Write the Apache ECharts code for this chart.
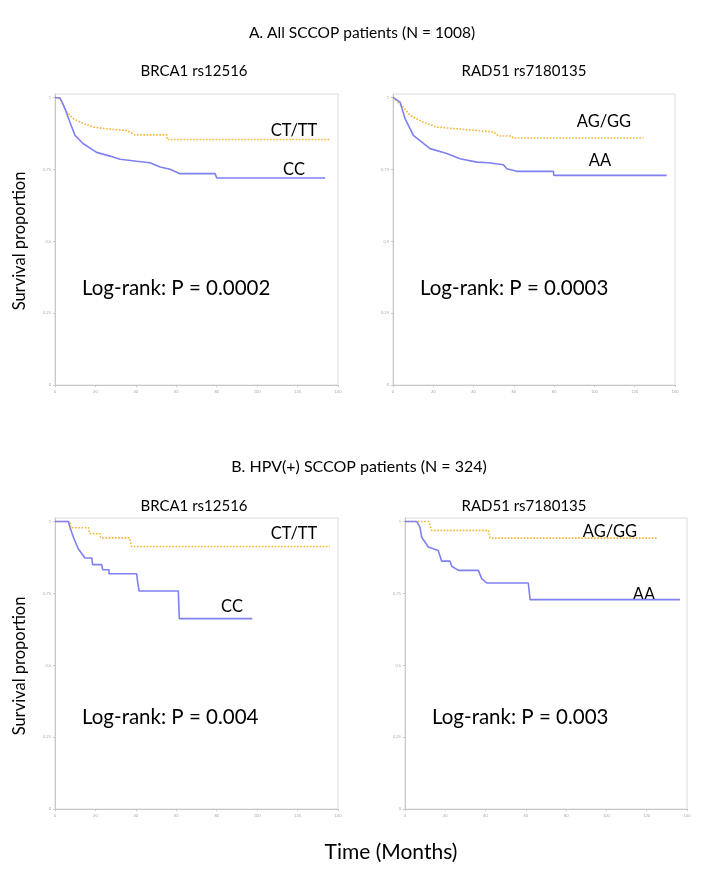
<!DOCTYPE html>
<html>
<head>
<meta charset="utf-8">
<script src="https://cdn.jsdelivr.net/npm/echarts@6/dist/echarts.min.js"></script>
<style>
html,body{margin:0;padding:0;background:#fff;}
#c{width:706px;height:876px;}
</style>
</head>
<body>
<div id="c"></div>
<script>
// ---- data (time in months, survival proportion) ----
const xTicks = [0, 20, 40, 60, 80, 100, 120, 140];
const yTicks = [0, 0.25, 0.5, 0.75, 1];

// Panel A-left: BRCA1 rs12516, all patients
const aBrcaCC_t  = [0, 2.5, 4.9, 7.4, 9.9, 14, 20.6, 27.2, 32.2, 40.4, 47, 52, 56.9, 61.8, 79.2, 80, 133.6];
const aBrcaCC_s  = [1, 0.998, 0.962, 0.914, 0.868, 0.839, 0.809, 0.796, 0.785, 0.778, 0.773, 0.758, 0.75, 0.735, 0.735, 0.72, 0.72];
const aBrcaCT_t  = [0, 2.5, 5.8, 9.1, 14, 18.9, 25.6, 35.5, 39.6, 55.3, 55.3, 136];
const aBrcaCT_s  = [1, 0.995, 0.949, 0.926, 0.909, 0.897, 0.891, 0.885, 0.87, 0.87, 0.854, 0.854];

// Panel A-right: RAD51 rs7180135, all patients
const aRadAA_t   = [0, 3.5, 6, 10.1, 18.4, 26.7, 33.3, 41.6, 47.3, 54.8, 56.5, 61.4, 79.6, 79.9, 135.9];
const aRadAA_s   = [1, 0.984, 0.926, 0.868, 0.822, 0.805, 0.787, 0.775, 0.773, 0.766, 0.752, 0.743, 0.743, 0.729, 0.729];
const aRadAG_t   = [0, 5.1, 8.4, 15, 21.7, 31.6, 41.6, 49.8, 52.3, 58.9, 59.7, 124.3];
const aRadAG_s   = [1, 0.966, 0.938, 0.914, 0.897, 0.891, 0.885, 0.88, 0.866, 0.866, 0.859, 0.859];

// Panel B-left: BRCA1 rs12516, HPV(+) patients
const bBrcaCC_t  = [0, 6.6, 7.4, 9.1, 11.5, 14.8, 18.2, 18.6, 23.1, 23.6, 26.7, 26.7, 40.4, 40.9, 41.6, 61, 61.5, 97.6];
const bBrcaCC_s  = [1, 1, 0.98, 0.945, 0.905, 0.873, 0.873, 0.85, 0.85, 0.832, 0.832, 0.818, 0.818, 0.789, 0.758, 0.758, 0.662, 0.662];
const bBrcaCT_t  = [0, 7.4, 7.8, 16.5, 17.3, 22.3, 22.6, 36.8, 37.9, 136];
const bBrcaCT_s  = [1, 1, 0.978, 0.978, 0.957, 0.957, 0.943, 0.943, 0.913, 0.913];

// Panel B-right: RAD51 rs7180135, HPV(+) patients
const bRadAA_t   = [0, 5.8, 7.4, 8.3, 11.6, 16.5, 18.2, 22.3, 23.2, 26.5, 36.4, 38.1, 40.6, 61.2, 62.1, 136.5];
const bRadAA_s   = [1, 1, 0.98, 0.945, 0.911, 0.899, 0.862, 0.862, 0.844, 0.83, 0.83, 0.801, 0.786, 0.786, 0.728, 0.728];
const bRadAG_t   = [0, 11.6, 12.4, 13.3, 41.4, 42.2, 125];
const bRadAG_s   = [1, 1, 0.986, 0.969, 0.969, 0.942, 0.942];

const FONT = 'Lato';
const BLUE = '#8080f2';
const ORANGE = '#f5b333';

function pairs(t, s){ return t.map((v,i)=>[v, s[i]]); }

const grids = [
  {left:55,  top:94,  width:283, height:291},
  {left:393, top:94,  width:282, height:291},
  {left:55,  top:518, width:283, height:291},
  {left:405, top:518, width:282, height:291}
];

const xAxes = grids.map((g,i)=>({
  type:'value', gridIndex:i, min:0, max:140, interval:20,
  axisLine:{show:true, lineStyle:{color:'#c8c8c8', width:1}},
  axisTick:{show:true, length:2, lineStyle:{color:'#c8c8c8'}},
  axisLabel:{fontSize:4, color:'#aaa', margin:5, fontFamily:FONT},
  splitLine:{show:false}
}));
const yAxes = grids.map((g,i)=>({
  type:'value', gridIndex:i, min:0, max:1.012, interval:0.25,
  axisLine:{show:true, lineStyle:{color:'#c8c8c8', width:1}},
  axisTick:{show:true, length:2, lineStyle:{color:'#c8c8c8'}},
  axisLabel:{fontSize:4, color:'#aaa', margin:4, fontFamily:FONT, showMaxLabel:false},
  splitLine:{show:false}
}));

function line(i, t, s, color, dotted){
  return {
    type:'line', xAxisIndex:i, yAxisIndex:i, data:pairs(t,s),
    symbol:'none', animation:false, silent:true,
    lineStyle:{color:color, width:1.6, type:dotted?'dotted':'solid'}
  };
}

const series = [
  line(0, aBrcaCT_t, aBrcaCT_s, ORANGE, true),
  line(0, aBrcaCC_t, aBrcaCC_s, BLUE, false),
  line(1, aRadAG_t, aRadAG_s, ORANGE, true),
  line(1, aRadAA_t, aRadAA_s, BLUE, false),
  line(2, bBrcaCT_t, bBrcaCT_s, ORANGE, true),
  line(2, bBrcaCC_t, bBrcaCC_s, BLUE, false),
  line(3, bRadAG_t, bRadAG_s, ORANGE, true),
  line(3, bRadAA_t, bRadAA_s, BLUE, false)
];

function t2(x,y,text,size,align){
  return {type:'text', x:x, y:y, style:{text:text, fontSize:size, fontFamily:FONT, fill:'#000', textAlign:align||'center', textVerticalAlign:'middle'}};
}

const graphic = [
  t2(362, 33, 'A. All SCCOP patients (N = 1008)', 15.5),
  t2(194, 71, 'BRCA1 rs12516', 15),
  t2(524, 71, 'RAD51 rs7180135', 15),
  t2(359, 467, 'B. HPV(+) SCCOP patients (N = 324)', 16),
  t2(194, 506, 'BRCA1 rs12516', 15),
  t2(524, 506, 'RAD51 rs7180135', 15),
  t2(82, 288, 'Log-rank: P = 0.0002', 20.5, 'left'),
  t2(420, 288, 'Log-rank: P = 0.0003', 20.5, 'left'),
  t2(82, 717, 'Log-rank: P = 0.004', 20.5, 'left'),
  t2(432, 717, 'Log-rank: P = 0.003', 20.5, 'left'),
  t2(294, 131, 'CT/TT', 16.5),
  t2(294, 170, 'CC', 16.5),
  t2(604, 122, 'AG/GG', 16.5),
  t2(600, 161, 'AA', 16.5),
  t2(294, 534, 'CT/TT', 16.5),
  t2(232, 607, 'CC', 16.5),
  t2(610, 532, 'AG/GG', 16.5),
  t2(644, 595, 'AA', 16.5),
  {type:'text', x:20, y:241, rotation:Math.PI/2, style:{text:'Survival proportion', fontSize:16.5, fontFamily:FONT, fill:'#000', textAlign:'center', textVerticalAlign:'middle'}},
  {type:'text', x:20, y:666, rotation:Math.PI/2, style:{text:'Survival proportion', fontSize:16.5, fontFamily:FONT, fill:'#000', textAlign:'center', textVerticalAlign:'middle'}},
  t2(391, 852, 'Time (Months)', 21)
];

const chart = echarts.init(document.getElementById('c'), null, {renderer:'canvas'});
chart.setOption({
  animation:false,
  backgroundColor:'#fff',
  grid: grids.map(g=>Object.assign({show:true, borderColor:'#dcdcdc', borderWidth:1, backgroundColor:'transparent'}, g)),
  xAxis: xAxes,
  yAxis: yAxes,
  series: series,
  graphic: graphic
});
</script>
</body>
</html>
